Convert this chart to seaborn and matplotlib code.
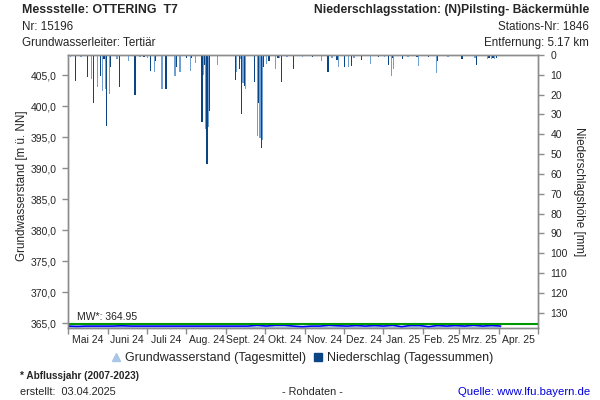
import matplotlib
matplotlib.use("Agg")
import matplotlib.pyplot as plt
import matplotlib.dates as mdates
from matplotlib.lines import Line2D
from matplotlib.ticker import FuncFormatter, FixedLocator
import seaborn as sns
import pandas as pd
import numpy as np

# ---------------- data ----------------
gw_start = "2024-05-01"
gw_values = [364.55, 364.50, 364.55, 364.55, 364.55, 364.55, 364.60, 364.55,
             364.55, 364.55, 364.55, 364.55, 364.55, 364.55, 364.55, 364.55,
             364.55, 364.55, 364.55, 364.55, 364.55, 364.70, 364.55, 364.70,
             364.70, 364.55, 364.45, 364.55, 364.55, 364.70, 364.60, 364.55,
             364.65, 364.55, 364.65, 364.55, 364.70, 364.45, 364.65, 364.65,
             364.45, 364.65, 364.55, 364.65, 364.55, 364.70, 364.55, 364.65,
             364.55]

precip_dates = ["2024-05-03", "2024-05-07", "2024-05-11", "2024-05-16", "2024-05-19", "2024-05-21",
                "2024-05-24", "2024-05-26", "2024-05-28", "2024-05-29", "2024-05-30",
                "2024-05-31", "2024-06-02", "2024-06-03", "2024-06-08", "2024-06-10",
                "2024-06-17", "2024-06-22", "2024-06-26", "2024-06-29", "2024-07-02", "2024-07-04",
                "2024-07-07", "2024-07-08", "2024-07-13", "2024-07-16", "2024-07-23",
                "2024-07-24", "2024-07-27", "2024-08-01", "2024-08-04", "2024-08-05",
                "2024-08-08", "2024-08-13", "2024-08-14", "2024-08-15", "2024-08-16",
                "2024-08-17", "2024-08-18", "2024-08-19", "2024-08-25", "2024-09-08",
                "2024-09-09", "2024-09-11", "2024-09-12", "2024-09-13", "2024-09-14",
                "2024-09-15", "2024-09-16", "2024-09-23", "2024-09-25", "2024-09-26",
                "2024-09-27", "2024-09-28", "2024-09-29", "2024-09-30", "2024-10-02",
                "2024-10-04", "2024-10-09", "2024-10-11", "2024-10-12", "2024-10-14",
                "2024-10-18", "2024-10-23", "2024-10-30", "2024-11-07", "2024-11-14",
                "2024-11-19", "2024-11-22", "2024-11-26", "2024-11-27", "2024-12-02",
                "2024-12-05", "2024-12-07", "2024-12-09", "2024-12-15", "2024-12-22",
                "2024-12-28", "2025-01-02", "2025-01-05", "2025-01-07", "2025-01-08",
                "2025-01-09", "2025-01-16", "2025-01-20", "2025-01-27", "2025-01-28",
                "2025-02-05", "2025-02-11", "2025-02-12", "2025-02-20", "2025-03-03",
                "2025-03-13", "2025-03-14", "2025-03-23", "2025-03-24", "2025-03-26",
                "2025-03-27", "2025-03-28", "2025-03-30"]
precip_mm = [1.2, 13.0, 1.0, 11.0, 12.0, 24.0,
             16.0, 10.6, 18.0, 2.0, 17.0,
             36.0, 19.5, 6.0, 2.0, 16.0,
             3.0, 20.0, 1.0, 1.0, 1.5, 8.0,
             8.4, 3.0, 17.3, 17.0, 10.4,
             6.0, 8.4, 1.5, 8.2, 1.5,
             3.9, 33.6, 10.0, 5.0, 37.5,
             55.0, 36.5, 28.0, 5.2, 12.6,
             8.4, 7.0, 2.0, 29.8, 14.0,
             15.5, 17.3, 13.8, 41.0, 24.0,
             42.0, 46.7, 43.0, 6.0, 4.5,
             3.0, 7.0, 1.5, 1.5, 13.5,
             1.0, 7.0, 1.0, 1.0, 3.0,
             8.4, 1.5, 2.5, 5.9, 5.9,
             6.2, 5.5, 1.5, 2.5, 4.7,
             1.0, 1.0, 5.0, 10.4, 1.5,
             7.0, 2.0, 1.0, 1.0, 5.4,
             1.0, 9.0, 3.0, 1.0, 2.0,
             1.5, 5.0, 2.0, 1.5, 2.0,
             1.5, 2.0, 1.5]

month_labels = ["Mai 24", "Juni 24", "Juli 24", "Aug. 24", "Sept. 24", "Okt. 24",
                "Nov. 24", "Dez. 24", "Jan. 25", "Feb. 25", "Mrz. 25", "Apr. 25"]
mw_value = 364.95
left_ticks = [365, 370, 375, 380, 385, 390, 395, 400, 405]
right_ticks = [0, 10, 20, 30, 40, 50, 60, 70, 80, 90, 100, 110, 120, 130]

# ---------------- figure ----------------
sns.set_theme(style="white")
plt.rcParams["font.family"] = ["Liberation Sans", "DejaVu Sans"]

fig = plt.figure(figsize=(6, 4), dpi=100)
ax = fig.add_axes([68/600, 1-328/400, (538-68)/600, (328-55)/400])

gw_df = pd.DataFrame({
    "date": pd.date_range(gw_start, periods=len(gw_values), freq="7D"),
    "value": gw_values,
})
gray = "#8c8c8c"
light_bar = "#6f9fd3"
dark_bar = "#0b4583"
ax.set_ylim(364.24, 408.3)
ax.fill_between(gw_df["date"], gw_df["value"], 364.24, color="#a9c6e6", lw=0, zorder=1)
sns.lineplot(data=gw_df, x="date", y="value", ax=ax, color="#0000ff", lw=1.2, zorder=3)
ax.axhline(mw_value, color="#009900", lw=1.5, zorder=4)
ax.text(0.019, mw_value + 0.3, f"MW*: {mw_value:.2f}", transform=ax.get_yaxis_transform(),
        fontsize=7.5, ha="left", va="bottom", color="#222222")

ax2 = ax.twinx()
pdates = pd.to_datetime(precip_dates)
bar_colors = [light_bar if i % 2 == 0 else dark_bar for i in range(len(precip_mm))]
ax2.bar(pdates, precip_mm, width=1.0, color=bar_colors, linewidth=0, zorder=2, antialiased=False)
ax2.set_ylim(137.7, 0)

x0, x1 = pd.Timestamp("2024-05-01"), pd.Timestamp("2025-05-01")
ax.set_xlim(x0, x1)
month_starts = pd.date_range(x0, x1, freq="MS")
ms_num = mdates.date2num(month_starts)
mids = (ms_num[:-1] + ms_num[1:]) / 2
ax.xaxis.set_major_locator(FixedLocator(ms_num))
ax.xaxis.set_major_formatter(FuncFormatter(lambda v, p: ""))
ax.set_xticks(mids, minor=True)
ax.set_xticklabels(month_labels, minor=True)
ax.tick_params(axis="x", which="major", length=4, color=gray, width=1, direction="out", bottom=True)
ax.tick_params(axis="x", which="minor", length=0, labelsize=7.5, pad=5, bottom=True)

ax.set_yticks(left_ticks)
ax.yaxis.set_major_formatter(FuncFormatter(lambda v, p: f"{v:.1f}".replace(".", ",")))
ax.tick_params(axis="y", length=4, color=gray, width=1, labelsize=7.5, pad=4, left=True, direction="out")
ax2.set_yticks(right_ticks)
ax2.tick_params(axis="y", length=4, color=gray, width=1, labelsize=7.5, pad=5, right=True, direction="out")
ax.set_xlabel("")
ax.set_ylabel("")
ax2.set_ylabel("")
for a in (ax, ax2):
    for s in a.spines.values():
        s.set_color(gray)
        s.set_linewidth(1)

# texts
fig.text(22/600, 1-10/400, "Messstelle: OTTERING  T7", fontsize=8.9, fontweight="bold", va="center", ha="left")
fig.text(22/600, 1-27/400, "Nr: 15196", fontsize=8.4, va="center", ha="left")
fig.text(22/600, 1-43/400, "Grundwasserleiter: Tertiär", fontsize=8.4, va="center", ha="left")
fig.text(589/600, 1-10/400, "Niederschlagsstation: (N)Pilsting- Bäckermühle", fontsize=8.7, fontweight="bold", va="center", ha="right")
fig.text(589/600, 1-27/400, "Stations-Nr: 1846", fontsize=8.4, va="center", ha="right")
fig.text(589/600, 1-43/400, "Entfernung: 5.17 km", fontsize=8.4, va="center", ha="right")

fig.text(22/600, 1-186/400, "Grundwasserstand [m ü. NN]", fontsize=8.4, rotation=90, va="center", ha="center")
fig.text(579/600, 1-192/400, "Niederschlagshöhe [mm]", fontsize=8.4, rotation=270, va="center", ha="center")

handles = [Line2D([], [], marker="^", color="none", markerfacecolor="#a9c6e6", markeredgecolor="#a9c6e6", markersize=6),
           Line2D([], [], marker="s", color="none", markerfacecolor=dark_bar, markeredgecolor=dark_bar, markersize=6)]
fig.legend(handles, ["Grundwasserstand (Tagesmittel)", "Niederschlag (Tagessummen)"],
           loc="center", bbox_to_anchor=(302/600, 1-358/400), ncol=2, frameon=False,
           fontsize=9, handletextpad=0.3, columnspacing=0.6, handlelength=0.8)

fig.text(20/600, 1-376/400, "* Abflussjahr (2007-2023)", fontsize=7.2, fontweight="bold", va="center", ha="left")
fig.text(20/600, 1-392/400, "erstellt:  03.04.2025", fontsize=7.8, va="center", ha="left")
fig.text(312/600, 1-392/400, "- Rohdaten -", fontsize=7.8, va="center", ha="center")
fig.text(590/600, 1-392/400, "Quelle: www.lfu.bayern.de", fontsize=8.2, va="center", ha="right", color="#0000dd")

fig.savefig("out.png", dpi=100)
